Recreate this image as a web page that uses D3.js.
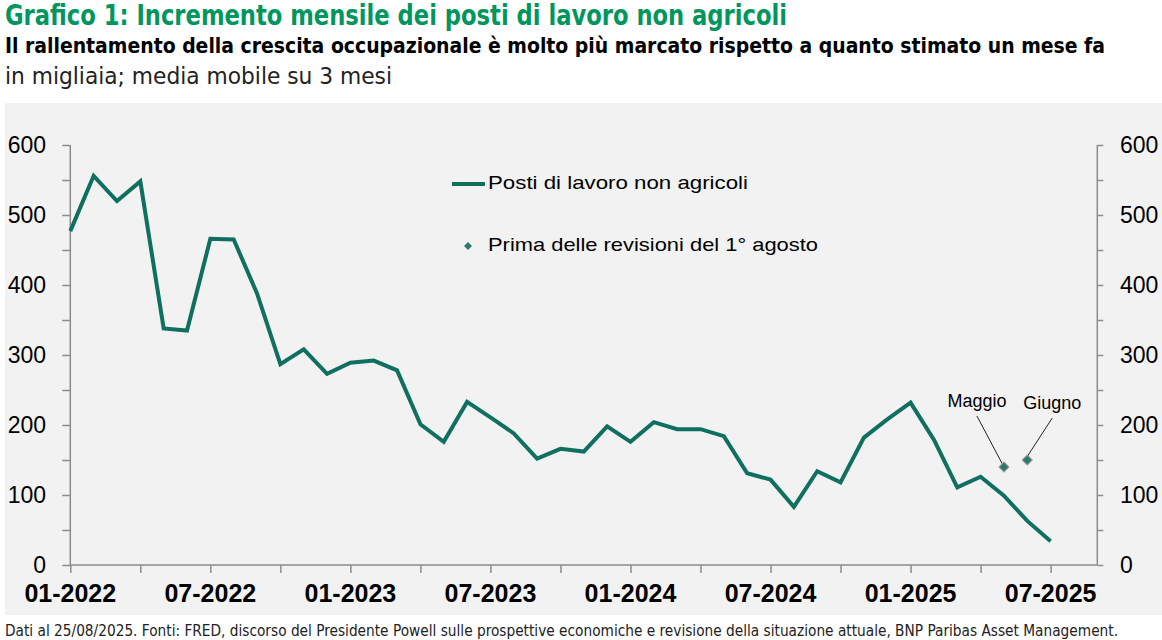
<!DOCTYPE html>
<html><head><meta charset="utf-8">
<script src="https://cdn.jsdelivr.net/npm/d3@7"></script>
<style>
html,body{margin:0;padding:0;background:#fff;}
svg{display:block;}
</style></head>
<body>
<svg id="chart" width="1162" height="640"></svg>
<script>
// ---- Data ----
const months = ["01-2022","02-2022","03-2022","04-2022","05-2022","06-2022","07-2022","08-2022","09-2022","10-2022","11-2022","12-2022",
"01-2023","02-2023","03-2023","04-2023","05-2023","06-2023","07-2023","08-2023","09-2023","10-2023","11-2023","12-2023",
"01-2024","02-2024","03-2024","04-2024","05-2024","06-2024","07-2024","08-2024","09-2024","10-2024","11-2024","12-2024",
"01-2025","02-2025","03-2025","04-2025","05-2025","06-2025","07-2025"];
const payrolls = [477,556,520,548,338,335,466,465,388,287,308,273,
289,292,278,201,176,233,211,188,152,166,162,198,
176,204,194,194,184,131,122,83,134,118,182,208,
232,179,111,126,99,63,34];
const preRevisionMonths = ["05-2025","06-2025"];
const preRevisionValues = [140,150];
const preRevisionLabels = ["Maggio","Giugno"];
const yTicks = [0,100,200,300,400,500,600];
const xTickLabels = ["01-2022","07-2022","01-2023","07-2023","01-2024","07-2024","01-2025","07-2025"];

const title = "Grafico 1: Incremento mensile dei posti di lavoro non agricoli";
const subtitle = "Il rallentamento della crescita occupazionale è molto più marcato rispetto a quanto stimato un mese fa";
const unitLine = "in migliaia; media mobile su 3 mesi";
const footer = "Dati al 25/08/2025. Fonti: FRED, discorso del Presidente Powell sulle prospettive economiche e revisione della situazione attuale, BNP Paribas Asset Management.";
const legendLine = "Posti di lavoro non agricoli";
const legendMarker = "Prima delle revisioni del 1° agosto";

// ---- Setup ----
const svg = d3.select("#chart");
const teal = "#10705f";
const green = "#00965e";
const axisCol = "#8c8c8c";
const narrow = "'Liberation Sans Narrow','DejaVu Sans Condensed',Arial,sans-serif";
const sans = "'Liberation Sans',Arial,sans-serif";

const x = d3.scaleLinear().domain([0, 44]).range([70.3, 1097.3]);
const y = d3.scaleLinear().domain([0, 600]).range([565, 145]);
const idx = m => months.indexOf(m);

// background
svg.append("rect").attr("x",5).attr("y",103).attr("width",1157).attr("height",512).attr("fill","#f2f2f2");

// fit helper
function fit(sel, target){
  const w = sel.node().getComputedTextLength();
  if (w > 0) sel.attr("textLength", target).attr("lengthAdjust","spacingAndGlyphs");
}

// titles
const t1 = svg.append("text").attr("x",5).attr("y",25).attr("font-family",narrow).attr("font-weight","bold")
  .attr("font-size",28).attr("fill",green).text(title);
fit(t1, 782);
const t2 = svg.append("text").attr("x",5).attr("y",53).attr("font-family",narrow).attr("font-weight","bold")
  .attr("font-size",21).attr("fill","#000").text(subtitle);
fit(t2, 1100);
const t3 = svg.append("text").attr("x",5).attr("y",84).attr("font-family",narrow)
  .attr("font-size",23).attr("fill","#222").text(unitLine);
fit(t3, 387);

// axes
const yLeft = d3.axisLeft(y).tickValues(d3.range(0,601,50)).tickSize(8).tickFormat("");
const gL = svg.append("g").attr("transform",`translate(${x(0)},0)`).call(yLeft);
const yRight = d3.axisRight(y).tickValues(d3.range(0,601,50)).tickSize(6).tickFormat("");
const gR = svg.append("g").attr("transform",`translate(${x(44)},0)`).call(yRight);
const xAxis = d3.axisBottom(x).tickValues(d3.range(0,43,3)).tickSize(8).tickFormat("");
const gX = svg.append("g").attr("transform",`translate(0,${y(0)})`).call(xAxis);
[gL,gR,gX].forEach(g=>{
  g.select(".domain").attr("stroke",axisCol).attr("stroke-width",1.5);
  g.selectAll(".tick line").attr("stroke",axisCol).attr("stroke-width",1.5);
});
gX.select(".domain").attr("d",`M${x(0)},0H${x(44)}`);
gL.select(".domain").attr("d",`M0,${y(600)}V${y(0)}`);
gR.select(".domain").attr("d",`M0,${y(600)}V${y(0)}`);

// y labels
svg.append("g").selectAll("text").data(yTicks).join("text")
  .attr("x",46).attr("y",d=>y(d)+8).attr("text-anchor","end")
  .attr("font-family",sans).attr("font-size",23).attr("fill","#000").text(d=>d);
svg.append("g").selectAll("text").data(yTicks).join("text")
  .attr("x",1120).attr("y",d=>y(d)+8).attr("text-anchor","start")
  .attr("font-family",sans).attr("font-size",23).attr("fill","#000").text(d=>d);

// x labels
svg.append("g").selectAll("text").data(xTickLabels).join("text")
  .attr("x",d=>x(idx(d))).attr("y",602).attr("text-anchor","middle")
  .attr("font-family",sans).attr("font-weight","bold").attr("font-size",25).attr("fill","#000").text(d=>d);

// line
const line = d3.line().x((d,i)=>x(i)).y(d=>y(d));
svg.append("path").datum(payrolls).attr("d",line).attr("fill","none")
  .attr("stroke",teal).attr("stroke-width",4).attr("stroke-linejoin","miter");

// annotations
const annLabelPos = [{dx:-27, dy:-60},{dx:25, dy:-51}];
const ann = svg.append("g");
preRevisionMonths.forEach((m,i)=>{
  const px = x(idx(m)), py = y(preRevisionValues[i]);
  const lx = px + annLabelPos[i].dx, ly = py + annLabelPos[i].dy;
  ann.append("line").attr("x1",lx).attr("y1",ly+9).attr("x2",px-1).attr("y2",py-2)
    .attr("stroke","#222").attr("stroke-width",1);
  ann.append("text").attr("x",lx).attr("y",ly).attr("text-anchor","middle")
    .attr("font-family",sans).attr("font-size",18).attr("fill","#000").text(preRevisionLabels[i]);
});
const sq = d3.symbol().type(d3.symbolSquare).size(50);
svg.append("g").selectAll("path").data(preRevisionValues).join("path")
  .attr("d",sq).attr("transform",(d,i)=>`translate(${x(idx(preRevisionMonths[i]))},${y(d)}) rotate(45)`)
  .attr("fill","#2d7a6c").attr("stroke","#999").attr("stroke-width",1);

// legend
svg.append("line").attr("x1",452).attr("x2",485).attr("y1",184).attr("y2",184)
  .attr("stroke",teal).attr("stroke-width",4);
const l1 = svg.append("text").attr("x",488).attr("y",189).attr("font-family",sans).attr("font-size",19)
  .attr("fill","#000").text(legendLine);
fit(l1, 260);
svg.append("path").attr("d",d3.symbol().type(d3.symbolSquare).size(32)())
  .attr("transform","translate(468,246) rotate(45)").attr("fill","#2d7a6c");
const l2 = svg.append("text").attr("x",488).attr("y",251).attr("font-family",sans).attr("font-size",19)
  .attr("fill","#000").text(legendMarker);
fit(l2, 330);

// footer
const f = svg.append("text").attr("x",5).attr("y",636).attr("font-family",narrow).attr("font-size",15)
  .attr("fill","#222").text(footer);
fit(f, 1113);
</script>
</body></html>
